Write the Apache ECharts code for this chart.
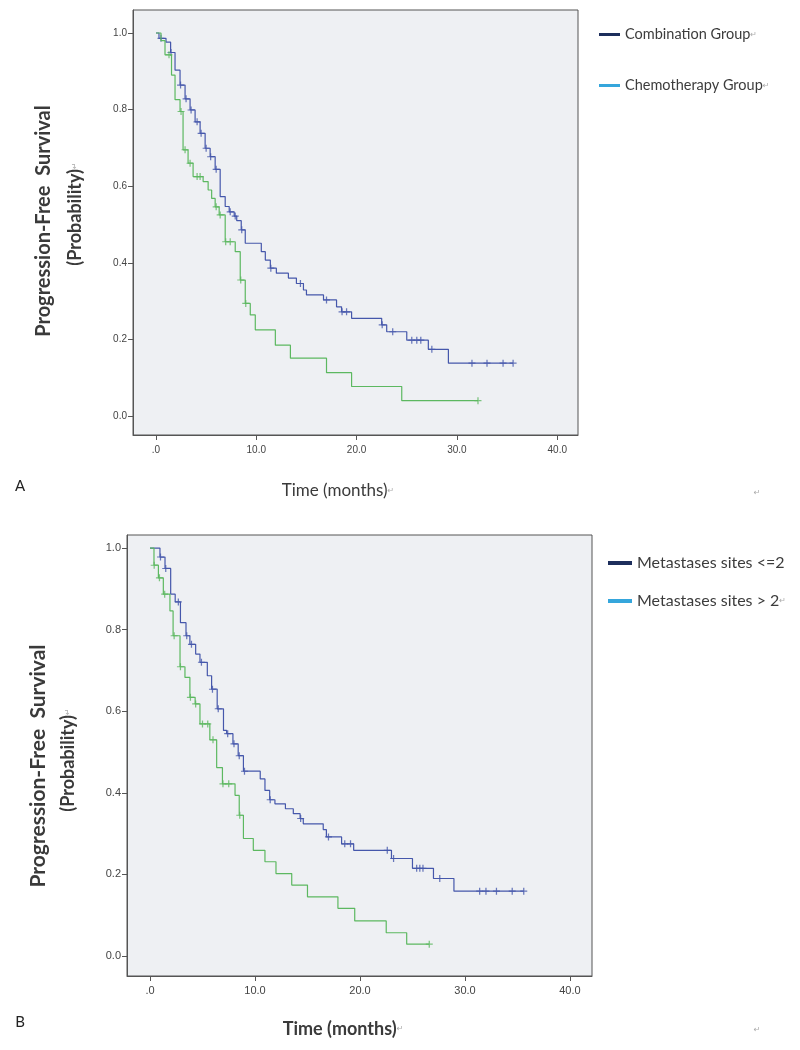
<!DOCTYPE html>
<html><head><meta charset="utf-8">
<script src="https://cdn.jsdelivr.net/npm/echarts@6/dist/echarts.min.js"></script>
<style>html,body{margin:0;background:#fff}#c{width:800px;height:1050px}</style>
</head><body><div id="c"></div>
<script>
// ---- tick labels ----
const xTicks = [0, 10, 20, 30, 40];
const yTicks = [0, 0.2, 0.4, 0.6, 0.8, 1.0];

// ---- Panel A: Combination Group (Kaplan-Meier steps) ----
const aCombTimes = [0, 0.3, 1.0, 1.46, 1.9, 2.4, 2.9, 3.4, 3.9, 4.4, 4.9, 5.4, 5.9, 6.4, 6.9, 7.3, 7.8, 8.05, 8.5, 8.9, 10.5, 10.9, 11.4, 12.0, 13.2, 14.0, 14.7, 15.0, 16.7, 18.0, 18.5, 19.5, 22.5, 23.0, 25.0, 27.15, 29.15];
const aCombSurv  = [1.0, 0.986, 0.976, 0.949, 0.903, 0.864, 0.828, 0.799, 0.768, 0.738, 0.699, 0.677, 0.644, 0.573, 0.547, 0.533, 0.522, 0.51, 0.486, 0.451, 0.429, 0.407, 0.386, 0.373, 0.36, 0.346, 0.329, 0.316, 0.303, 0.285, 0.272, 0.255, 0.238, 0.22, 0.198, 0.174, 0.138];
const aCombEnd = 35.6;
const aCombCensor = [0.5, 1.5, 2.45, 3.0, 3.5, 4.1, 4.5, 5.0, 5.45, 6.0, 7.4, 7.9, 8.55, 11.45, 14.4, 17.0, 18.55, 19.0, 22.55, 23.6, 25.5, 26.0, 26.4, 27.5, 31.5, 33.0, 34.6, 35.6];

// ---- Panel A: Chemotherapy Group ----
const aChemoTimes = [0, 0.5, 0.9, 1.55, 1.9, 2.4, 2.7, 3.2, 3.7, 4.7, 5.2, 5.55, 5.9, 6.3, 6.9, 7.9, 8.4, 8.9, 9.4, 9.9, 11.9, 13.4, 17.0, 19.5, 24.5];
const aChemoSurv  = [1.0, 0.98, 0.943, 0.89, 0.826, 0.795, 0.695, 0.66, 0.625, 0.612, 0.59, 0.568, 0.546, 0.525, 0.455, 0.429, 0.355, 0.294, 0.264, 0.225, 0.185, 0.151, 0.113, 0.077, 0.04];
const aChemoEnd = 32.1;
const aChemoCensor = [1.3, 2.5, 2.9, 3.4, 4.1, 4.4, 6.0, 6.4, 6.95, 7.4, 8.45, 8.95, 32.1];

// ---- Panel B: Metastases sites <=2 ----
const bLowTimes = [0, 0.95, 1.43, 1.97, 2.4, 2.9, 3.43, 3.8, 4.35, 4.76, 5.46, 5.87, 6.4, 7.0, 7.3, 7.9, 8.4, 8.9, 10.5, 10.95, 11.4, 11.9, 12.9, 13.65, 14.3, 14.6, 16.5, 16.8, 18.25, 19.4, 23.0, 25.0, 27.0, 28.95];
const bLowSurv  = [1.0, 0.978, 0.95, 0.887, 0.868, 0.817, 0.785, 0.764, 0.74, 0.72, 0.687, 0.654, 0.606, 0.553, 0.545, 0.52, 0.491, 0.453, 0.434, 0.406, 0.383, 0.373, 0.361, 0.349, 0.337, 0.324, 0.31, 0.292, 0.275, 0.259, 0.239, 0.215, 0.19, 0.159];
const bLowEnd = 35.6;
const bLowCensor = [1.0, 1.5, 2.7, 3.5, 3.95, 4.9, 5.95, 6.5, 7.4, 8.0, 8.5, 9.0, 11.45, 14.35, 17.0, 18.55, 19.1, 22.6, 23.2, 25.4, 25.7, 26.0, 27.6, 31.4, 32.0, 33.0, 34.5, 35.6];

// ---- Panel B: Metastases sites > 2 ----
const bHighTimes = [0, 0.38, 0.8, 1.27, 1.9, 2.2, 2.86, 3.33, 3.8, 4.3, 4.76, 5.7, 6.35, 6.9, 8.1, 8.5, 8.9, 9.84, 10.95, 12.0, 13.5, 15.0, 17.9, 19.5, 22.5, 24.45];
const bHighSurv  = [1.0, 0.958, 0.927, 0.887, 0.846, 0.785, 0.709, 0.683, 0.634, 0.618, 0.569, 0.53, 0.462, 0.422, 0.394, 0.345, 0.288, 0.259, 0.231, 0.202, 0.174, 0.145, 0.117, 0.086, 0.057, 0.029];
const bHighEnd = 26.6;
const bHighCensor = [0.4, 0.9, 1.4, 2.3, 2.9, 3.85, 4.35, 5.0, 5.5, 6.0, 6.95, 7.5, 8.55, 26.6];

// ---- names ----
const aNames = ['Combination Group', 'Chemotherapy Group'];
const bNames = ['Metastases sites <=2', 'Metastases sites > 2'];

function stepData(times, surv, end) {
  const d = times.map((t, i) => [t, surv[i]]);
  d.push([end, surv[surv.length - 1]]);
  return d;
}
function censorData(times, surv, cens) {
  return cens.map(c => {
    let s = surv[0];
    for (let i = 0; i < times.length; i++) if (times[i] <= c) s = surv[i];
    return [c, s];
  });
}

const BLUE = '#4557ab', GREEN = '#5cb860';
const PLUS = 'path://M4.2,0h1.6v10h-1.6z M0.5,4.2h9v1.6h-9z';
const tickFont = 'Liberation Sans Narrow, Liberation Sans, Arial';
const lblFont = 'Lato, Open Sans, sans-serif';

function xAx(idx, min, max, fs, margin) {
  return {
    type: 'value', gridIndex: idx, min: min, max: max,
    axisLine: { show: true, onZero: false, lineStyle: { color: '#555', width: 1 } },
    splitLine: { show: false },
    axisTick: { show: true, customValues: xTicks, length: 5, lineStyle: { color: '#555' } },
    axisLabel: { customValues: xTicks, color: '#444', fontSize: fs, fontFamily: tickFont, margin: margin,
      formatter: v => (v === 0 ? '.0' : v.toFixed(1)) }
  };
}
function yAx(idx, min, max, fs) {
  return {
    type: 'value', gridIndex: idx, min: min, max: max,
    axisLine: { show: true, onZero: false, lineStyle: { color: '#555', width: 1 } },
    splitLine: { show: false },
    axisTick: { show: true, customValues: yTicks, length: 5, lineStyle: { color: '#555' } },
    axisLabel: { customValues: yTicks, color: '#444', fontSize: fs, fontFamily: tickFont, margin: 6,
      formatter: v => v.toFixed(1) }
  };
}
function lineS(name, idx, data, color) {
  return { type: 'line', name: name, xAxisIndex: idx, yAxisIndex: idx, step: 'end', data: data,
    showSymbol: false, symbol: 'none', silent: true, animation: false,
    lineStyle: { color: color, width: 1.2 }, itemStyle: { color: color } };
}
function censS(name, idx, data, color) {
  return { type: 'scatter', name: name + ' censored', xAxisIndex: idx, yAxisIndex: idx, data: data,
    symbol: PLUS, symbolSize: 7, silent: true, animation: false, itemStyle: { color: color } };
}

const rich = { r: { fontSize: 8, color: '#aaa', fontFamily: 'DejaVu Sans' } };
const richG = { r: { fontSize: 8, fill: '#aaa', fontFamily: 'DejaVu Sans' } };

function label(x, y, text, fs, bold, rot) {
  return { type: 'text', x: x, y: y, rotation: rot ? Math.PI / 2 : 0,
    style: { text: text, fontSize: fs, fontWeight: bold ? 'bold' : 'normal', fontFamily: lblFont,
      fill: '#3a3a3a', align: 'center', verticalAlign: 'middle', rich: richG } };
}

const option = {
  animation: false,
  grid: [
    { left: 133, top: 10, width: 445, height: 425, show: true, backgroundColor: '#eef0f3', borderColor: '#555', borderWidth: 1 },
    { left: 127, top: 535, width: 465, height: 441, show: true, backgroundColor: '#eef0f3', borderColor: '#555', borderWidth: 1 }
  ],
  xAxis: [ xAx(0, -2.29, 42.07, 10, 10), xAx(1, -2.19, 42.1, 11, 9) ],
  yAxis: [ yAx(0, -0.0496, 1.06, 10), yAx(1, -0.049, 1.032, 11) ],
  legend: [
    { left: 594, top: 22, orient: 'vertical', itemGap: 36, itemWidth: 21, itemHeight: 3, icon: 'rect',
      selectedMode: false,
      textStyle: { fontSize: 14.5, color: '#3c3c3c', fontFamily: lblFont, rich: rich },
      formatter: n => n + '{r|↵}',
      data: [ { name: aNames[0], itemStyle: { color: '#1d2e5c' }, lineStyle: { color: '#1d2e5c' } },
              { name: aNames[1], itemStyle: { color: '#35a6dc' }, lineStyle: { color: '#35a6dc' } } ] },
    { left: 603, top: 550, orient: 'vertical', itemGap: 22, itemWidth: 24, itemHeight: 4, icon: 'rect',
      selectedMode: false,
      textStyle: { fontSize: 16, color: '#3c3c3c', fontFamily: lblFont, rich: rich },
      formatter: n => (n === bNames[1] ? n + '{r|↵}' : n),
      data: [ { name: bNames[0], itemStyle: { color: '#1d2e5c' }, lineStyle: { color: '#1d2e5c' } },
              { name: bNames[1], itemStyle: { color: '#35a6dc' }, lineStyle: { color: '#35a6dc' } } ] }
  ],
  series: [
    lineS(aNames[0], 0, stepData(aCombTimes, aCombSurv, aCombEnd), BLUE),
    lineS(aNames[1], 0, stepData(aChemoTimes, aChemoSurv, aChemoEnd), GREEN),
    censS(aNames[0], 0, censorData(aCombTimes, aCombSurv, aCombCensor), BLUE),
    censS(aNames[1], 0, censorData(aChemoTimes, aChemoSurv, aChemoCensor), GREEN),
    lineS(bNames[0], 1, stepData(bLowTimes, bLowSurv, bLowEnd), BLUE),
    lineS(bNames[1], 1, stepData(bHighTimes, bHighSurv, bHighEnd), GREEN),
    censS(bNames[0], 1, censorData(bLowTimes, bLowSurv, bLowCensor), BLUE),
    censS(bNames[1], 1, censorData(bHighTimes, bHighSurv, bHighCensor), GREEN)
  ],
  graphic: [
    label(44, 221, 'Progression-Free  Survival', 20, true, true),
    label(75, 214, '(Probability){r|↵}', 18, true, true),
    label(38, 766, 'Progression-Free  Survival', 21, true, true),
    label(68, 760, '(Probability){r|↵}', 18, true, true),
    label(338, 491, 'Time (months){r|↵}', 17, false, false),
    label(343, 1029, 'Time (months){r|↵}', 18, true, false),
    { type: 'text', x: 20, y: 486, style: { text: 'A', fontSize: 15, fontFamily: lblFont, fill: '#222', align: 'center', verticalAlign: 'middle' } },
    { type: 'text', x: 20, y: 1022, style: { text: 'B', fontSize: 15, fontFamily: lblFont, fill: '#222', align: 'center', verticalAlign: 'middle' } },
    { type: 'text', x: 757, y: 493, style: { text: '↵', fontSize: 8, fontFamily: 'DejaVu Sans', fill: '#aaa', align: 'center', verticalAlign: 'middle' } },
    { type: 'text', x: 757, y: 1030, style: { text: '↵', fontSize: 8, fontFamily: 'DejaVu Sans', fill: '#aaa', align: 'center', verticalAlign: 'middle' } }
  ]
};

const chart = echarts.init(document.getElementById('c'), null, { renderer: 'canvas' });
chart.setOption(option);
</script>
</body></html>
